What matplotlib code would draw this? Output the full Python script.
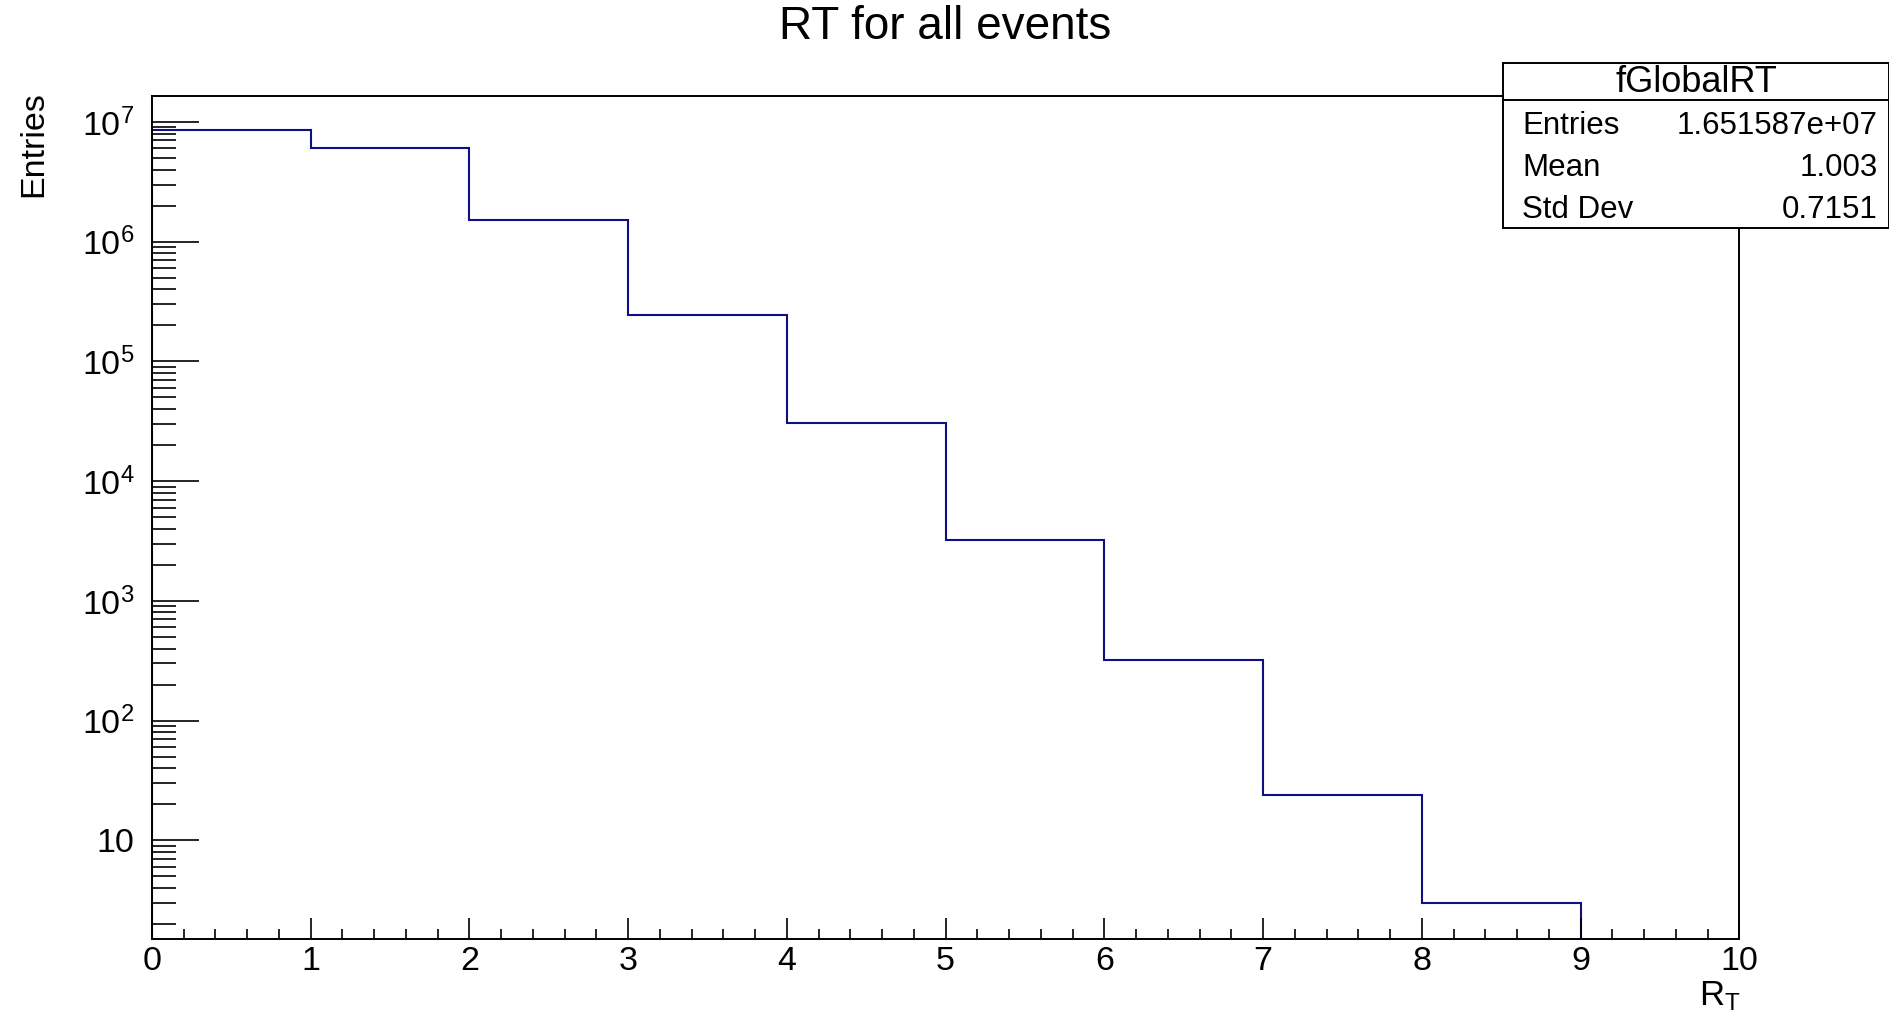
import numpy as np
import matplotlib
matplotlib.use("Agg")
import matplotlib.pyplot as plt
from matplotlib.patches import Rectangle
from matplotlib.ticker import FixedLocator, FuncFormatter, MultipleLocator, NullFormatter

plt.rcParams['font.family'] = ['Liberation Sans', 'DejaVu Sans']
plt.rcParams['mathtext.fontset'] = 'custom'
plt.rcParams['mathtext.rm'] = 'Liberation Sans'
plt.rcParams['mathtext.it'] = 'Liberation Sans:italic'
plt.rcParams['mathtext.bf'] = 'Liberation Sans:bold'

# RT histogram, 10 unit-wide bins from 0 to 10
bin_edges = np.arange(0, 11)
counts = np.array([8626610, 6080000, 1530000, 245000, 30700, 3210, 323, 24, 3, 0])

hist_name = "fGlobalRT"
stat_labels = ["Entries", "Mean", "Std Dev"]
stat_mean = "1.003"
stat_std = "0.7151"

y_min, y_max = 1.5, 1.655e7
line_color = '#101085'

fig = plt.figure(figsize=(18.9, 10.16), dpi=100)
ax = fig.add_axes([0.0803, 0.0758, 0.840, 0.830])

floor = 1e-3
ax.stairs(np.where(counts > 0, counts, floor), bin_edges, baseline=floor,
          color=line_color, linewidth=1.5)

ax.set_yscale('log')
ax.set_xlim(0, 10)
ax.set_ylim(y_min, y_max)

for sp in ax.spines.values():
    sp.set_linewidth(1.4)
    sp.set_color('black')

# x axis: major every 1, four minor ticks in between
ax.xaxis.set_major_locator(MultipleLocator(1))
ax.xaxis.set_minor_locator(MultipleLocator(0.2))
ax.tick_params(axis='x', which='major', direction='in', length=15, width=1.2,
               labelsize=24.5, pad=5, top=False)
ax.tick_params(axis='x', which='minor', direction='in', length=7.5, width=1.2,
               top=False)

# y axis: decades, with 2..9 minor ticks
decades = [10.0 ** k for k in range(1, 8)]
minors = [m * 10.0 ** k for k in range(0, 8) for m in range(2, 10)]
ax.yaxis.set_major_locator(FixedLocator(decades))
ax.yaxis.set_minor_locator(FixedLocator(minors))
ax.yaxis.set_minor_formatter(NullFormatter())


def decade_label(v, pos):
    k = int(round(np.log10(v)))
    if k == 1:
        return '10'
    return r'$\mathregular{10^{%d}}$' % k


ax.yaxis.set_major_formatter(FuncFormatter(decade_label))
ax.tick_params(axis='y', which='major', direction='in', length=34, width=1.2,
               labelsize=24.5, pad=12.5, right=False)
ax.tick_params(axis='y', which='minor', direction='in', length=17, width=1.2,
               right=False)

fig.text(0.5, 1 - 27 / 1016, "RT for all events", ha='center', va='center',
         fontsize=33)
fig.text(0.018, 1 - 91 / 1016, "Entries", rotation=90, ha='center', va='top',
         fontsize=24.5)
fig.text(0.921, 0.003, r'$\mathregular{R_{T}}$', ha='right', va='bottom',
         fontsize=25)

# statistics box
bx0, bx1 = 1503 / 1890, 1889 / 1890
by_top, by_sep, by_bot = 1 - 62.7 / 1016, 1 - 100 / 1016, 1 - 228 / 1016
fig.patches.append(Rectangle((bx0, by_bot), bx1 - bx0, by_top - by_bot,
                             transform=fig.transFigure, facecolor='white',
                             edgecolor='black', linewidth=1.4, zorder=5))
fig.lines.append(plt.Line2D([bx0, bx1], [by_sep, by_sep],
                            transform=fig.transFigure, color='black',
                            linewidth=1.4, zorder=6))
fig.text((bx0 + bx1) / 2, 1 - 83 / 1016, hist_name, ha='center', va='center',
         fontsize=26, zorder=7)

stat_values = ["%.6e" % counts.sum(), stat_mean, stat_std]
row_y = [125.5, 167.5, 209.5]
for lab, val, yy in zip(stat_labels, stat_values, row_y):
    fig.text(1522 / 1890, 1 - yy / 1016, lab, ha='left', va='center',
             fontsize=22.5, zorder=7)
    fig.text(1878 / 1890, 1 - yy / 1016, val, ha='right', va='center',
             fontsize=22.5, zorder=7)

fig.savefig("out.png", dpi=100, facecolor='white')
